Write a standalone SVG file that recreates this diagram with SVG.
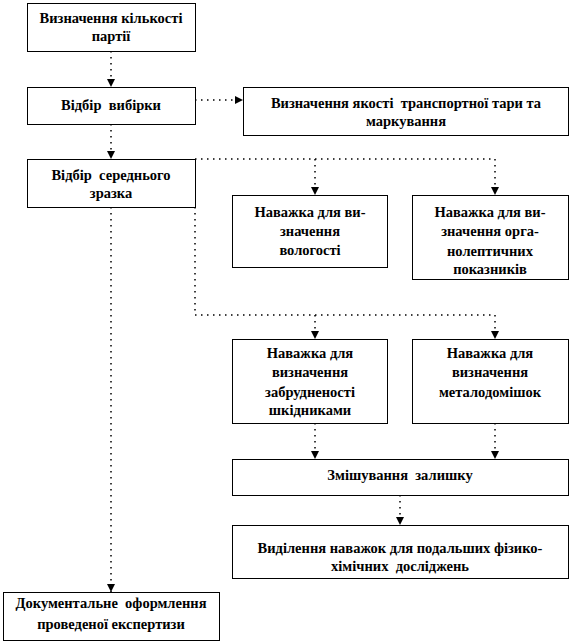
<svg xmlns="http://www.w3.org/2000/svg" width="570" height="642" viewBox="0 0 570 642">
<style>
.box{fill:#fff;stroke:#000;stroke-width:1}
.t{font-family:"Liberation Serif","Times New Roman",serif;font-weight:bold;font-size:14.5px;text-anchor:middle;fill:#000;white-space:pre}
.c{fill:none;stroke:#000;stroke-width:1.5;stroke-dasharray:1.5 4.5}
.a{marker-end:url(#arr)}
</style>
<defs>
<marker id="arr" markerUnits="userSpaceOnUse" markerWidth="8" markerHeight="8" refX="8" refY="4" orient="auto">
<path d="M0,0 L8,4 L0,8 z" fill="#000"/>
</marker>
</defs>
<rect width="570" height="642" fill="#fff"/>
<g id="connectors">
<path class="c a" d="M111,51 V87"/>
<path class="c a" d="M195,100 H243"/>
<path class="c a" d="M111,124 V159"/>
<path class="c a" d="M195,159 H495 V195"/>
<path class="c a" d="M315,159 V195"/>
<path class="c a" d="M195,207 V315 H495 V339"/>
<path class="c a" d="M315,315 V339"/>
<path class="c a" d="M315,423 V459"/>
<path class="c a" d="M495,423 V459"/>
<path class="c a" d="M400,495 V525"/>
<path class="c a" d="M111,207 V592"/>
</g>
<g id="n1"><rect class="box" x="27.5" y="3.5" width="168" height="48"/>
<text class="t" x="111" y="23">Визначення кількості</text><text class="t" x="111" y="41">партії</text></g>
<g id="n2"><rect class="box" x="27.5" y="87.5" width="168" height="37"/>
<text class="t" x="111" y="110" xml:space="preserve">Відбір  вибірки</text></g>
<g id="n3"><rect class="box" x="243.5" y="87.5" width="325" height="48"/>
<text class="t" x="406" y="108" xml:space="preserve">Визначення якості  транспортної тари та</text><text class="t" x="406" y="126">маркування</text></g>
<g id="n4"><rect class="box" x="27.5" y="159.5" width="168" height="48"/>
<text class="t" x="111" y="180" xml:space="preserve">Відбір  середнього</text><text class="t" x="111" y="198">зразка</text></g>
<g id="n5"><rect class="box" x="232.5" y="195.5" width="155" height="72"/>
<text class="t" x="310" y="217">Наважка для ви-</text><text class="t" x="310" y="236">значення</text><text class="t" x="310" y="255">вологості</text></g>
<g id="n6"><rect class="box" x="412.5" y="195.5" width="156" height="84"/>
<text class="t" x="490" y="217">Наважка для ви-</text><text class="t" x="490" y="236">значення орга-</text><text class="t" x="490" y="256">нолептичних</text><text class="t" x="490" y="274">показників</text></g>
<g id="n7"><rect class="box" x="232.5" y="339.5" width="155" height="84"/>
<text class="t" x="310" y="358">Наважка для</text><text class="t" x="310" y="377">визначення</text><text class="t" x="310" y="397">забрудненості</text><text class="t" x="310" y="415">шкідниками</text></g>
<g id="n8"><rect class="box" x="412.5" y="339.5" width="156" height="84"/>
<text class="t" x="490" y="358">Наважка для</text><text class="t" x="490" y="377">визначення</text><text class="t" x="490" y="397">металодомішок</text></g>
<g id="n9"><rect class="box" x="232.5" y="459.5" width="336" height="36"/>
<text class="t" x="400" y="480" xml:space="preserve">Змішування  залишку</text></g>
<g id="n10"><rect class="box" x="232.5" y="525.5" width="336" height="53"/>
<text class="t" x="400" y="553">Виділення наважок для подальших фізико-</text><text class="t" x="400" y="571" xml:space="preserve">хімічних  досліджень</text></g>
<g id="n11"><rect class="box" x="3.5" y="592.5" width="216" height="48"/>
<text class="t" x="111" y="608" xml:space="preserve">Документальне  оформлення</text><text class="t" x="111" y="629">проведеної експертизи</text></g>
</svg>
